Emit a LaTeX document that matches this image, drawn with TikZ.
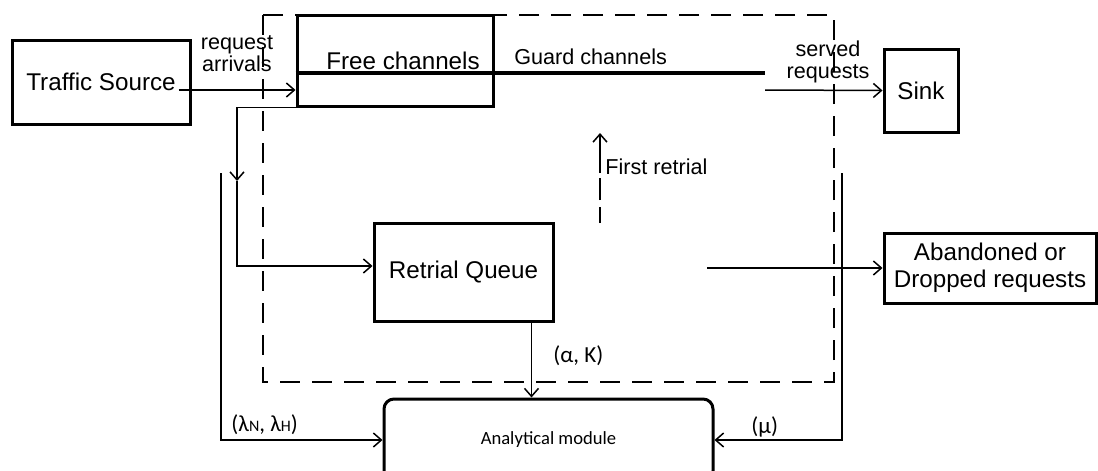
\documentclass[tikz,border=0pt]{standalone}
\usepackage{fontspec}
\setmainfont{Liberation Sans}
\newfontfamily\calfont{Carlito}
\usetikzlibrary{arrows.meta}

\begin{document}
\begin{tikzpicture}[x=0.5pt,y=-0.5pt,
    blk/.style={draw,line width=1.5pt,inner sep=0pt,align=center,font=\fontsize{12.1}{13.5}\selectfont},
    small/.style={inner sep=0pt,align=center,font=\fontsize{10.8}{11}\selectfont},
    param/.style={inner sep=0pt,anchor=west,font=\calfont\fontsize{11.5}{13}\selectfont},
    link/.style={line width=0.75pt,-{Straight Barb[length=4pt,width=7pt]}}]
  \useasboundingbox (0,0) rectangle (1098,471);
  \draw[line width=1pt,dash pattern=on 10pt off 6pt] (263,15) rectangle (834,382);
  \node[blk,minimum width=89pt,minimum height=42pt] (src) at (101,82) {Traffic Source};
  \node[blk,minimum width=98pt,minimum height=45.5pt] (free) at (395,60.5) {\hspace{8pt}Free channels};
  \node[blk,minimum width=37pt,minimum height=41.5pt] (sink) at (921,90.5) {Sink};
  \node[blk,minimum width=89.5pt,minimum height=49pt] (rq) at (463.5,272) {Retrial Queue};
  \node[blk,minimum width=106pt,minimum height=35pt] (ab) at (990,268) {Abandoned or\\Dropped requests};
  \node[blk,rounded corners=5pt,minimum width=164.5pt,minimum height=41pt,
    font=\calfont\fontsize{9.3}{11}\selectfont] (an) at (548.5,440) {Analytical module};
  \coordinate (gend) at (765,73);
  \coordinate (rdown) at (237,181);
  \coordinate (fr0) at (600,223);
  \coordinate (fr1) at (600,133);
  \coordinate (ab0) at (707,268);
  \coordinate (lt) at (221,173);
  \coordinate (rt) at (842,173);
  \draw[line width=2pt] (free.west |- gend) -- (gend);
  \node[small,anchor=west] (guard) at (514,57) {Guard channels};
  \node[small] (req) at (237,54) {request\\arrivals};
  \node[small] (served) at (828,62) {served\\requests};
  \node[small,anchor=west] (first) at (605,167) {First retrial};
  \draw[link] ([xshift=-6.5pt,yshift=-4pt]src.east) -- ([yshift=-14.75pt]free.west);
  \draw[link] ([yshift=-8.5pt]gend) -- (sink.west);
  \draw[link] (free.south west) -| (rdown);
  \draw[link] (rdown) |- ([yshift=3pt]rq.west);
  \draw[link,dash pattern=on 8pt off 3.5pt on 11pt off 2.5pt on 20pt off 0pt] (fr0) -- (fr1);
  \draw[link] (ab0) -- (ab.west);
  \draw[link] ([xshift=34pt]rq.south) -- ([xshift=34pt]rq.south |- an.north);
  \draw[link] (lt) |- (an.west);
  \draw[link] (rt) |- (an.east);
  \node[param] (ak) at (553,356) {(α, K)};
  \node[param] (lam) at (231,425) {(λ{\fontsize{8}{9}\selectfont N}, λ{\fontsize{8}{9}\selectfont H})};
  \node[param] (mu) at (751,427) {(μ)};
\end{tikzpicture}
\end{document}
